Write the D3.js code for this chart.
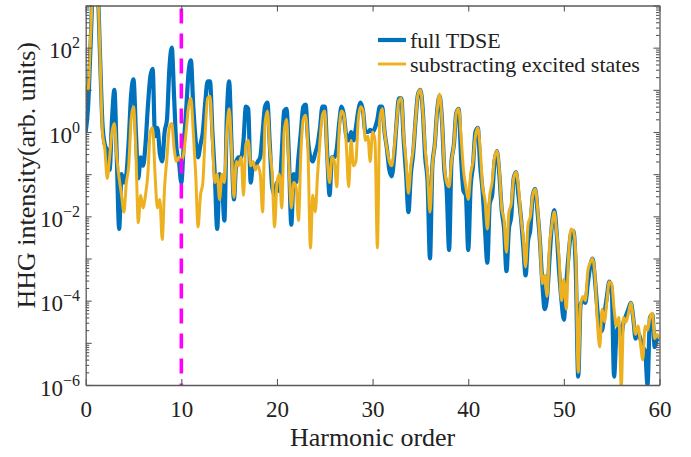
<!DOCTYPE html>
<html>
<head>
<meta charset="utf-8">
<script src="https://cdn.jsdelivr.net/npm/d3@7"></script>
<style>
  body { margin: 0; background: #fff; }
  svg { display: block; }
  text { font-family: "Liberation Serif", "Times New Roman", serif; fill: #222; }
</style>
</head>
<body>
<svg id="chart" width="691" height="457"></svg>
<script>
// Harmonic grid: samples every quarter harmonic from 0 to 60
const harmonicStart = 0;
const harmonicStep = 0.25;

const xTicks = [0, 10, 20, 30, 40, 50, 60];
const yDecades = [-6, -5, -4, -3, -2, -1, 0, 1, 2, 3];
const yLabelledDecades = [-6, -4, -2, 0, 2];
const seriesNames = ["full TDSE", "substracting excited states"];
const seriesColors = ["#0072BD", "#EDB120"];
const markerHarmonic = 10;

// log10 of the HHG intensity, full TDSE
const fullTdseLog10 = [
   0.0,  0.6,  2.0,  3.5,
   4.0,  3.5,  1.8,  0.2,
  -0.3, -0.45, -0.9, 0.3,
   1.0, -0.6, -2.3, -1.0,
  -1.2, -1.0, -0.2,  0.9,
   1.25, 0.0, -1.1, -0.6,
  -0.8, -0.3,  0.6,  1.3,
   1.5, -0.1,  0.1, -0.5,
  -0.7,  0.0,  0.3,  1.5,
   2.0,  0.8, -0.4, -0.7,
  -1.2, -0.3,  0.5,  1.4,
   1.7,  0.6, -0.2, -0.6,
  -0.3,  0.0,  0.7,  1.2,
   1.2,  0.0, -1.0, -2.3,
  -1.0, -1.2, -2.1,  0.3,
   1.2, -0.3, -1.6, -0.7,
  -0.6, -0.6, -0.2,  0.6,
   0.55, -1.2, -0.8, -0.8,
  -0.7, -0.6,  0.0,  0.6,
   0.7, -0.3, -1.3, -1.5,
  -1.2, -1.4, -0.5,  0.5,
   0.55, -0.6, -2.2, -1.0,
  -1.2, -0.6,  0.0,  0.6,
   0.65, -0.2, -0.6, -0.7,
  -0.5, -0.3,  0.1,  0.6,
   0.6, -0.5, -1.5, -0.6,
  -0.6, -0.4,  0.2,  0.6,
   0.4, -0.1, -0.2,  0.0,
  -0.2,  0.1,  0.5,  0.7,
   0.5,  0.0,  0.0,  0.05,
   0.0,  0.1,  0.3,  0.6,
   0.6,  0.0, -0.4, -0.9,
  -1.05, -0.6, 0.2,  0.8,
   0.8, -0.2, -1.0, -1.9,
  -1.0, -0.5,  0.3,  0.9,
   1.0,  0.5, -0.6, -1.2,
  -3.0, -0.8, -0.3,  0.5,
   0.85, 0.3, -0.9, -1.4,
  -2.8, -0.7, -0.3,  0.45,
   0.55, -0.6, -1.4, -1.5,
  -2.8, -1.3, -0.8,  0.0,
   0.1, -0.8, -1.4, -2.3,
  -3.1, -1.7, -1.5, -0.7,
  -0.45, -1.0, -1.85, -2.3,
  -3.3, -2.3, -2.0, -1.1,
  -0.95, -1.5, -2.0, -2.7,
  -3.4, -2.6, -2.3, -1.5,
  -1.35, -1.9, -2.6, -3.6,
  -4.2, -3.9, -3.0, -2.2,
  -1.85, -2.4, -3.3, -4.0,
  -4.45, -3.6, -2.9, -2.4,
  -2.35, -3.3, -5.8, -4.1,
  -4.0, -4.05, -3.6, -3.2,
  -3.0, -3.5, -4.2, -4.75,
  -4.7, -4.3, -3.9, -3.55,
  -3.7, -5.8, -4.8, -4.6,
  -4.8, -4.5, -4.35, -4.2,
  -4.05, -4.4, -4.9, -4.75,
  -4.9, -5.1, -5.2, -6.0,
  -4.4, -4.33, -5.1, -4.9,
  -4.95
];

// log10 of the HHG intensity with the excited-state contribution removed
const subtractedLog10 = [
   1.1,  1.0,  2.2,  3.5,
   4.0,  3.5,  1.8,  0.0,
  -0.4, -1.1, -0.6,  0.0,
   0.2, -0.6, -1.1, -1.5,
  -1.9, -1.2, -0.8,  0.3,
   0.6, -0.5, -2.15, -1.5,
  -1.8, -1.5, -1.0,  0.0,
   0.1, -1.0, -1.8, -1.6,
  -2.55, -1.3, -0.6, 0.1,
   0.2, -0.4, -0.7, -0.6,
  -0.7, -0.5,  0.0,  0.6,
   0.8,  0.0, -1.0, -2.25,
  -1.5, -1.2,  0.0,  0.8,
   0.85, -0.2, -1.2, -1.0,
  -1.6, -1.0, -1.2,  0.0,
   0.55, -0.4, -1.55, -0.7,
  -0.8, -0.6, -1.5, -0.3,
  -0.2, -0.8, -0.7, -0.9,
  -0.8, -1.0, -1.9,  0.2,
   0.5, -0.4, -1.0, -2.25,
  -1.2, -1.0, -1.8,  0.0,
   0.3, -0.8, -1.8, -1.2,
  -1.3, -2.1, -0.5,  0.3,
   0.4, -0.5, -2.75, -1.5,
  -1.9, -1.0, -0.2,  0.4,
   0.5, -0.6, -1.2, -0.6,
  -0.7, -1.3,  0.0,  0.5,
   0.4, -0.3, -1.3, -0.2,
  -0.8, -0.7,  0.3,  0.6,
   0.5, -0.2, -0.1, -0.7,
   0.0, -0.2, -2.75, 0.3,
   0.55, 0.0, -0.4, -0.7,
  -0.8, -0.4,  0.2,  0.75,
   0.8, -0.1, -0.7, -1.45,
  -0.8, -0.4,  0.3,  0.9,
   1.0,  0.5, -0.4, -1.0,
  -1.9, -0.8, -0.3,  0.5,
   0.9,  0.3, -0.8, -1.2,
  -1.3, -0.7, -0.3,  0.45,
   0.55, -0.1, -0.9, -1.3,
  -1.6, -1.0, -0.7, -0.1,
   0.1, -0.4, -1.3, -1.6,
  -2.3, -1.5, -1.2, -0.6,
  -0.45, -0.9, -1.8, -2.1,
  -2.85, -1.9, -1.7, -1.1,
  -0.95, -1.3, -2.0, -2.5,
  -3.2, -2.2, -2.0, -1.5,
  -1.35, -1.8, -2.6, -3.6,
  -3.4, -3.9, -2.7, -2.2,
  -1.9, -2.4, -3.0, -4.0,
  -3.5, -4.2, -2.9, -2.3,
  -2.35, -3.0, -5.7, -4.1,
  -3.9, -4.0, -3.3, -3.1,
  -3.0, -3.4, -4.5, -5.1,
  -4.2, -4.5, -4.0, -3.55,
  -3.6, -4.2, -4.6, -4.4,
  -6.05, -4.4, -4.5, -4.3,
  -4.05, -4.4, -4.8, -4.6,
  -5.0, -5.4, -4.6, -4.7,
  -4.4, -4.3, -4.9, -4.8,
  -4.9
];

const svg = d3.select("#chart");
const plot = { left: 85.7, right: 659.5, top: 5.5, bottom: 385 };
const axisColor = "#5a5a5a";

const x = d3.scaleLinear().domain([0, 60]).range([plot.left, plot.right]);
const y = d3.scaleLog().domain([1e-6, 1e3]).range([plot.bottom, plot.top]);

const toPoints = logs => logs.map((v, i) => ({ h: harmonicStart + i * harmonicStep, v: Math.pow(10, v) }));
const series = [fullTdseLog10, subtractedLog10].map((logs, i) => ({
  name: seriesNames[i], color: seriesColors[i], points: toPoints(logs)
}));

svg.append("defs").append("clipPath").attr("id", "plotClip")
  .append("rect")
  .attr("x", plot.left).attr("y", plot.top)
  .attr("width", plot.right - plot.left).attr("height", plot.bottom - plot.top);

const line = d3.line().x(d => x(d.h)).y(d => y(d.v)).curve(d3.curveMonotoneX);
const lineWidths = [4.2, 3.0];

const curves = svg.append("g").attr("clip-path", "url(#plotClip)");
series.forEach((s, i) => {
  curves.append("path")
    .datum(s.points)
    .attr("d", line)
    .attr("fill", "none")
    .attr("stroke", s.color)
    .attr("stroke-width", lineWidths[i])
    .attr("stroke-linejoin", "round");
});

// dashed marker at the 10th harmonic
curves.append("line")
  .attr("x1", x(markerHarmonic)).attr("x2", x(markerHarmonic))
  .attr("y1", plot.top).attr("y2", plot.bottom)
  .attr("stroke", "#FF00FF").attr("stroke-width", 3.6)
  .attr("stroke-dasharray", "15,10")
  .attr("stroke-dashoffset", -3);

// axes: ticks point inwards on all four sides
function styleAxis(g) {
  g.selectAll(".domain").attr("stroke", axisColor).attr("stroke-width", 1.3);
  g.selectAll(".tick line").attr("stroke", axisColor).attr("stroke-width", 1.1);
}

const majorTickVals = yDecades.map(k => Math.pow(10, k));
const minorTickVals = [];
yDecades.slice(0, -1).forEach(k => {
  for (let m = 2; m <= 9; m++) minorTickVals.push(m * Math.pow(10, k));
});

const xBottom = svg.append("g")
  .attr("transform", `translate(0,${plot.bottom})`)
  .call(d3.axisBottom(x).tickValues(xTicks).tickSizeInner(-6).tickSizeOuter(0).tickPadding(16).tickFormat(d3.format("d")));
styleAxis(xBottom);
xBottom.selectAll(".tick text").attr("font-size", 23).attr("fill", "#222")
  .attr("font-family", "Liberation Serif, serif");

const xTop = svg.append("g")
  .attr("transform", `translate(0,${plot.top})`)
  .call(d3.axisTop(x).tickValues(xTicks).tickSizeInner(-6).tickSizeOuter(0).tickFormat(""));
styleAxis(xTop);

[["left", d3.axisLeft, plot.left], ["right", d3.axisRight, plot.right]].forEach(([side, mk, px]) => {
  const major = svg.append("g").attr("transform", `translate(${px},0)`)
    .call(mk(y).tickValues(majorTickVals).tickSizeInner(-6).tickSizeOuter(0).tickFormat(""));
  styleAxis(major);
  const minor = svg.append("g").attr("transform", `translate(${px},0)`)
    .call(mk(y).tickValues(minorTickVals).tickSizeInner(-3.5).tickSizeOuter(0).tickFormat(""));
  styleAxis(minor);
  minor.select(".domain").remove();
});

// y tick labels as powers of ten
const yLabels = svg.append("g");
yLabelledDecades.forEach(k => {
  const t = yLabels.append("text")
    .attr("x", 80)
    .attr("y", y(Math.pow(10, k)) + 10.5)
    .attr("text-anchor", "end");
  t.append("tspan").attr("font-size", 23).text("10");
  t.append("tspan").attr("font-size", 16).attr("dy", -10)
    .text(k < 0 ? "\u2212" + Math.abs(k) : String(k));
});

// axis titles
svg.append("text")
  .attr("x", (plot.left + plot.right) / 2)
  .attr("y", 446)
  .attr("text-anchor", "middle")
  .attr("font-size", 26)
  .text("Harmonic order");

svg.append("text")
  .attr("transform", `translate(35,${(plot.top + plot.bottom) / 2 - 20}) rotate(-90)`)
  .attr("text-anchor", "middle")
  .attr("font-size", 26)
  .text("HHG intensity(arb. units)");

// legend
const legend = svg.append("g");
series.forEach((s, i) => {
  const ly = 40 + i * 24;
  legend.append("line")
    .attr("x1", 378).attr("x2", 406).attr("y1", ly).attr("y2", ly)
    .attr("stroke", s.color).attr("stroke-width", lineWidths[i]);
  legend.append("text")
    .attr("x", 410).attr("y", ly + 7.5)
    .attr("font-size", 22)
    .text(s.name);
});
</script>
</body>
</html>
